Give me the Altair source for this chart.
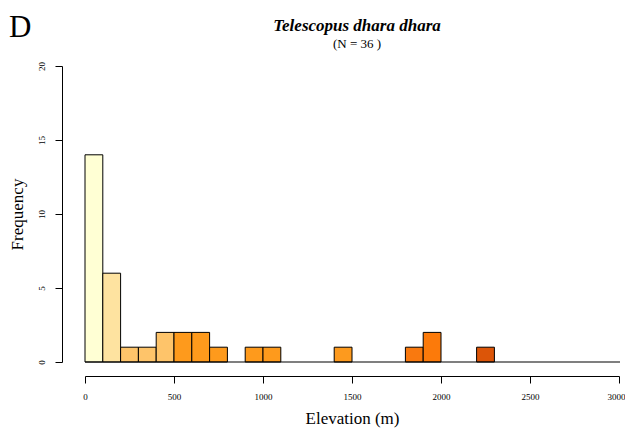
import altair as alt
import pandas as pd

bin_start = [0, 100, 200, 300, 400, 500, 600, 700, 900, 1000, 1400, 1800, 1900, 2200]
bin_width = 100
counts = [14, 6, 1, 1, 2, 2, 2, 1, 1, 1, 1, 1, 2, 1]
colors = ["#FFFFD4", "#FEE3A0", "#FEC46A", "#FEC46A", "#FEC46A", "#FE9A1C", "#FE9A1C",
          "#FE9A1C", "#FE9A1C", "#FE9A1C", "#FD9A1E", "#F9790F", "#FC7A0A", "#DC5508"]
x_ticks = [0, 500, 1000, 1500, 2000, 2500, 3000]
y_ticks = [0, 5, 10, 15, 20]
title_text = "Telescopus dhara dhara"
subtitle_text = "(N = 36 )"
panel_letter = "D"

df = pd.DataFrame({
    "lo": bin_start,
    "hi": [b + bin_width for b in bin_start],
    "count": counts,
    "color": colors,
})

W, H = 534, 296
serif = "Liberation Serif"

xscale = alt.Scale(domain=[0, 3000], nice=False, zero=False)
yscale = alt.Scale(domain=[0, 20], nice=False)

bars = alt.Chart(df).mark_rect(stroke="black", strokeWidth=1).encode(
    x=alt.X("lo:Q", scale=xscale, axis=alt.Axis(
        values=x_ticks, format="d", title="Elevation (m)", offset=14, grid=False,
        domainColor="black", tickColor="black", tickSize=7, labelFontSize=9,
        labelFont=serif, labelColor="black", labelPadding=9, titleFont=serif,
        titleFontSize=17, titleFontWeight="normal", titleColor="black",
        titlePadding=9, labelFlush=False,
        labelAlign={"condition": {"test": "datum.value == 3000", "value": "right"},
                    "value": "center"},
        labelOffset={"condition": {"test": "datum.value == 3000", "value": 6},
                     "value": 0})),
    x2="hi:Q",
    y=alt.Y("count:Q", scale=yscale, axis=alt.Axis(
        values=y_ticks, title="Frequency", offset=23, grid=False,
        domainColor="black", tickColor="black", tickSize=7, labelFontSize=9,
        labelFont=serif, labelColor="black", labelAngle=270, labelPadding=9,
        labelAlign="center", labelBaseline="bottom",
        titleFont=serif, titleFontSize=17, titleFontWeight="normal",
        titleColor="black", titlePadding=11, labelFlush=False)),
    y2=alt.datum(0),
    color=alt.Color("color:N", scale=None),
)

base = alt.Chart(pd.DataFrame({"a": [0]})).mark_rule(color="black", strokeWidth=1.2).encode(
    x=alt.value(0), x2=alt.value(W + 1), y=alt.value(H)
)

letter = alt.Chart(pd.DataFrame({"t": [panel_letter]})).mark_text(
    font=serif, fontSize=31, align="left", baseline="alphabetic", color="black"
).encode(text="t:N", x=alt.value(-76), y=alt.value(-29))

title = alt.Chart(pd.DataFrame({"t": [title_text]})).mark_text(
    font=serif, fontSize=17, fontStyle="italic", fontWeight="bold",
    align="center", baseline="alphabetic", color="black"
).encode(text="t:N", x=alt.value(W / 2 + 5), y=alt.value(-35))

subtitle = alt.Chart(pd.DataFrame({"t": [subtitle_text]})).mark_text(
    font=serif, fontSize=13, align="center", baseline="alphabetic", color="black"
).encode(text="t:N", x=alt.value(W / 2 + 5), y=alt.value(-18))

chart = alt.layer(bars, base, letter, title, subtitle).properties(
    width=W, height=H,
    autosize=alt.AutoSizeParams(type="none"),
    padding={"left": 77, "top": 58, "right": 6, "bottom": 66},
).configure_view(stroke=None)

chart.save("out.html", embed_options={"renderer": "svg", "actions": False})
